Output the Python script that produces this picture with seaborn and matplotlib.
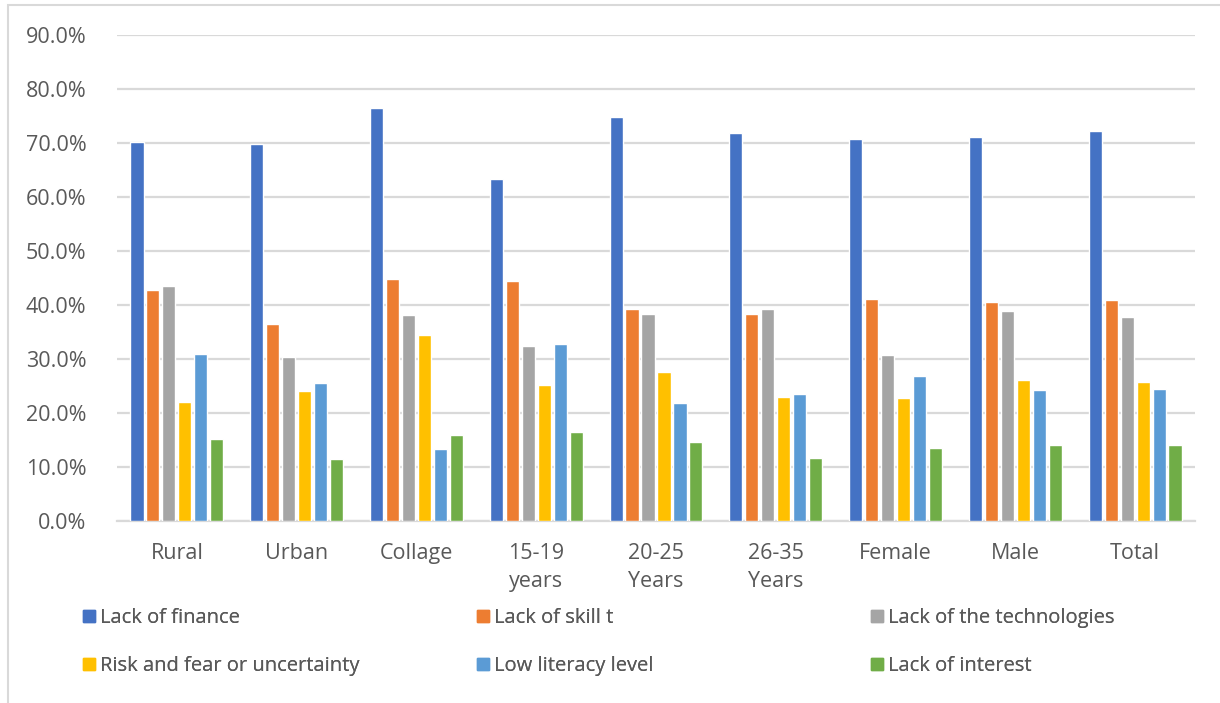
import matplotlib
matplotlib.use("Agg")
import matplotlib.pyplot as plt
from matplotlib.patches import Rectangle
from matplotlib.lines import Line2D
import seaborn as sns
import pandas as pd

categories = ["Rural", "Urban", "Collage", "15-19\nyears", "20-25\nYears",
              "26-35\nYears", "Female", "Male", "Total"]
series_names = ["Lack of finance", "Lack of skill t", "Lack of the technologies",
                "Risk and fear or uncertainty", "Low literacy level", "Lack of interest"]

lack_of_finance = [70.2, 69.9, 76.5, 63.3, 74.8, 71.8, 70.8, 71.2, 72.2]
lack_of_skill = [42.8, 36.5, 44.9, 44.5, 39.2, 38.3, 41.2, 40.6, 40.9]
lack_of_technologies = [43.6, 30.3, 38.2, 32.4, 38.3, 39.3, 30.7, 38.8, 37.7]
risk_fear = [22.0, 24.0, 34.5, 25.2, 27.6, 22.9, 22.7, 26.1, 25.7]
low_literacy = [31.0, 25.6, 13.4, 32.7, 21.8, 23.6, 26.9, 24.3, 24.4]
lack_of_interest = [15.1, 11.5, 15.9, 16.4, 14.7, 11.6, 13.5, 14.1, 14.1]

colors = ["#4472C4", "#ED7D31", "#A5A5A5", "#FFC000", "#5B9BD5", "#70AD47"]

all_series = [lack_of_finance, lack_of_skill, lack_of_technologies,
              risk_fear, low_literacy, lack_of_interest]
rows = []
for name, vals in zip(series_names, all_series):
    for cat, v in zip(categories, vals):
        rows.append({"category": cat, "series": name, "value": v / 100})
df = pd.DataFrame(rows)

sns.set_theme(style="white")
plt.rcParams["font.family"] = ["Open Sans", "DejaVu Sans"]
text_color = "#595959"
grid_color = "#D9D9D9"

fig = plt.figure(figsize=(12.2, 7.03), dpi=100)
ax = fig.add_axes([117 / 1220, 1 - 521 / 703, (1195 - 117) / 1220, (521 - 35) / 703])

sns.barplot(data=df, x="category", y="value", hue="series", order=categories,
            hue_order=series_names, palette=colors, width=0.8, gap=0.18,
            errorbar=None, legend=False, ax=ax, zorder=3, saturation=1)

ax.set_ylim(0, 0.9)
ax.set_xlim(-0.5, len(categories) - 0.5)
ax.set_yticks([i / 10 for i in range(10)])
ax.set_yticklabels([f"{i * 10:.1f}%" for i in range(10)])
ax.yaxis.grid(True, color=grid_color, linewidth=1.6, zorder=0)
ax.set_axisbelow(True)
for side in ["top", "right", "left"]:
    ax.spines[side].set_visible(False)
ax.spines["bottom"].set_color(grid_color)
ax.spines["bottom"].set_linewidth(1.6)
ax.tick_params(axis="y", length=0, pad=22, labelsize=15.5, labelcolor=text_color)
ax.tick_params(axis="x", length=0, pad=16, labelsize=15.5, labelcolor=text_color)
for lbl in ax.get_xticklabels():
    lbl.set_linespacing(1.4)
ax.set_xlabel("")
ax.set_ylabel("")

# legend: three columns, two rows, filled row by row
handles = [Line2D([0], [0], marker="s", linestyle="none", markersize=9,
                  markerfacecolor=c, markeredgecolor=c) for c in colors]
col_x = [61, 455, 849]
for col in range(3):
    idx = [col, col + 3]
    leg = fig.legend([handles[i] for i in idx], [series_names[i] for i in idx],
                     loc="upper left", bbox_to_anchor=(col_x[col] / 1220, 1 - 590 / 703),
                     frameon=False, fontsize=14.5, labelcolor=text_color,
                     handletextpad=0.05, handlelength=1.0, labelspacing=1.4)
    fig.add_artist(leg)

# chart area border
fig.add_artist(Rectangle((8 / 1220, -0.01), 1.1, 1 - 5 / 703 + 0.01,
                         transform=fig.transFigure, fill=False,
                         edgecolor=grid_color, linewidth=1.5))

fig.savefig("out.png", dpi=100, facecolor="white")
